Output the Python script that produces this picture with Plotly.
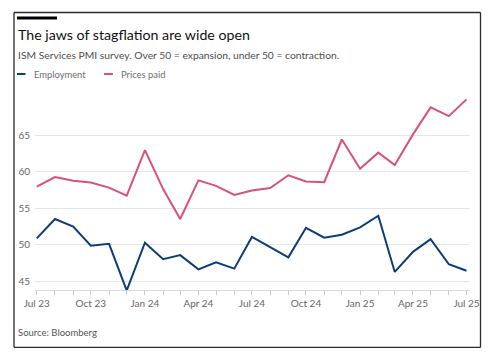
import plotly.graph_objects as go

months = ["2023-07-01", "2023-08-01", "2023-09-01", "2023-10-01", "2023-11-01", "2023-12-01",
          "2024-01-01", "2024-02-01", "2024-03-01", "2024-04-01", "2024-05-01", "2024-06-01",
          "2024-07-01", "2024-08-01", "2024-09-01", "2024-10-01", "2024-11-01", "2024-12-01",
          "2025-01-01", "2025-02-01", "2025-03-01", "2025-04-01", "2025-05-01", "2025-06-01",
          "2025-07-01"]
employment = [50.85, 53.5, 52.45, 49.85, 50.1, 43.7, 50.25, 48.0, 48.55, 46.6, 47.55, 46.7,
              51.05, 49.7, 48.25, 52.3, 50.95, 51.35, 52.35, 53.95, 46.25, 49.0, 50.75, 47.3, 46.4]
prices_paid = [57.95, 59.25, 58.75, 58.5, 57.8, 56.7, 62.95, 57.6, 53.5, 58.8, 58.05, 56.8,
               57.4, 57.75, 59.5, 58.65, 58.55, 64.4, 60.4, 62.6, 60.9, 65.1, 68.8, 67.6, 69.9]
tick_labels = ["Jul 23", "", "", "Oct 23", "", "", "Jan 24", "", "", "Apr 24", "", "",
               "Jul 24", "", "", "Oct 24", "", "", "Jan 25", "", "", "Apr 25", "", "", "Jul 25"]
y_ticks = [45, 50, 55, 60, 65]

BLUE = "#0d3d78"
PINK = "#d9507f"

fig = go.Figure()
fig.add_trace(go.Scatter(x=months, y=employment, mode="lines", name="Employment",
                         line=dict(color=BLUE, width=2)))
fig.add_trace(go.Scatter(x=months, y=prices_paid, mode="lines", name="Prices paid",
                         line=dict(color=PINK, width=2)))

OFF = 8  # page body margin
W, H = 496 - 2 * OFF, 361 - 2 * OFF
L, R, T, B = 35 - OFF, 470 - OFF, 95 - OFF, 290 - OFF
pw, ph = R - L, B - T


def px(x):
    return (x - OFF - L) / pw


def py(y):
    return (B - (y - OFF)) / ph


FONT = "Lato"
BORDER = dict(color="#2b2b2b", width=1.3)
shapes = [
    dict(type="line", xref="paper", yref="paper", x0=px(14), x1=px(480.5), y0=py(12.5), y1=py(12.5), line=BORDER),
    dict(type="line", xref="paper", yref="paper", x0=px(14), x1=px(480.5), y0=py(347.3), y1=py(347.3), line=BORDER),
    dict(type="line", xref="paper", yref="paper", x0=px(14), x1=px(14), y0=py(12.5), y1=py(347.3), line=BORDER),
    dict(type="line", xref="paper", yref="paper", x0=px(480.5), x1=px(480.5), y0=py(12.5), y1=py(347.3), line=BORDER),
    dict(type="line", xref="paper", yref="paper", x0=px(17), x1=px(57), y0=py(18), y1=py(18),
         line=dict(color="#000000", width=3)),
    dict(type="line", xref="paper", yref="paper", x0=px(17), x1=px(25.5), y0=py(74), y1=py(74),
         line=dict(color=BLUE, width=2)),
    dict(type="line", xref="paper", yref="paper", x0=px(104), x1=px(113), y0=py(74), y1=py(74),
         line=dict(color=PINK, width=2)),
]
annotations = [
    dict(text="The jaws of stagflation are wide open", xref="paper", yref="paper",
         x=px(16), y=py(34.5), xanchor="left", yanchor="middle", showarrow=False,
         font=dict(family=FONT, size=14.2, color="#111111")),
    dict(text="ISM Services PMI survey. Over 50 = expansion, under 50 = contraction.",
         xref="paper", yref="paper", x=px(16), y=py(55), xanchor="left", yanchor="middle",
         showarrow=False, font=dict(family=FONT, size=10.3, color="#4d4d4d")),
    dict(text="Employment", xref="paper", yref="paper", x=px(32), y=py(74.5), xanchor="left",
         yanchor="middle", showarrow=False, font=dict(family=FONT, size=9.4, color="#6e6e6e")),
    dict(text="Prices paid", xref="paper", yref="paper", x=px(119), y=py(74.5), xanchor="left",
         yanchor="middle", showarrow=False, font=dict(family=FONT, size=9.4, color="#6e6e6e")),
    dict(text="Source: Bloomberg", xref="paper", yref="paper", x=px(16), y=py(332),
         xanchor="left", yanchor="middle", showarrow=False,
         font=dict(family=FONT, size=9.5, color="#555555")),
]

fig.update_layout(
    width=W, height=H,
    margin=dict(l=L, r=W - R, t=T, b=H - B, autoexpand=False),
    paper_bgcolor="white", plot_bgcolor="white",
    showlegend=False,
    shapes=shapes, annotations=annotations,
    font=dict(family=FONT, size=10, color="#666666"),
)
fig.update_xaxes(
    type="date", range=["2023-06-28", "2025-07-07"],
    tickvals=months, ticktext=tick_labels, tickangle=0,
    showgrid=False, zeroline=False,
    showline=True, linecolor="#d9d9d9", linewidth=1,
    ticks="outside", ticklen=4, tickcolor="#c8c8c8", tickwidth=1,
    tickfont=dict(family=FONT, size=10, color="#666666"),
)
fig.update_yaxes(
    range=[43.77, 70.5], tickvals=y_ticks,
    showgrid=True, gridcolor="#e6e6e6", gridwidth=1, zeroline=False,
    showline=False, ticks="", ticklabelstandoff=4,
    tickfont=dict(family=FONT, size=10, color="#666666"),
)

fig.write_html("out.html")
